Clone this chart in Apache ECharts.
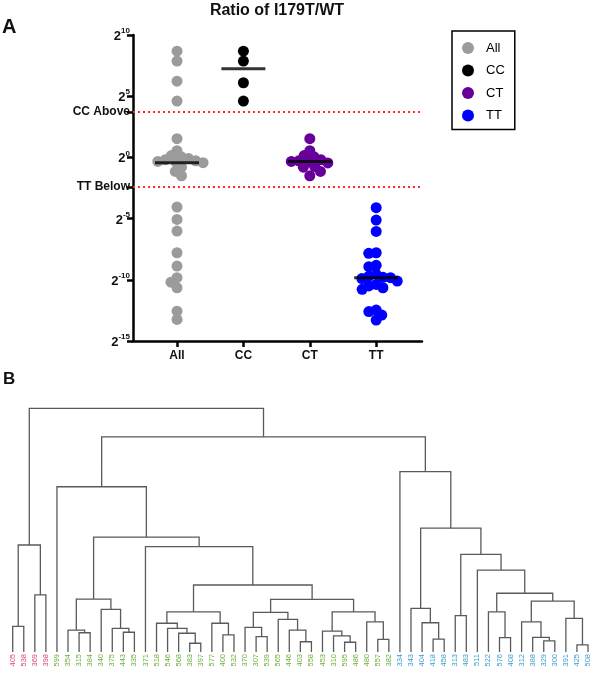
<!DOCTYPE html>
<html>
<head>
<meta charset="utf-8">
<script src="https://cdn.jsdelivr.net/npm/echarts@6/dist/echarts.min.js"></script>
<style>
html,body{margin:0;padding:0;background:#fff;}
#c{width:600px;height:675px;}
</style>
</head>
<body>
<div id="c"></div>
<script>
// ---------- Panel A data (log2 of ratio I179T/WT) ----------
const groups = ['All', 'CC', 'CT', 'TT'];
const allVals = [8.68, 7.87, 6.23, 4.6, 1.53, 0.55, 0.15, 0.05, -0.1, -0.2, -0.28, -0.33, -0.38, -0.43, -0.8, -1.15, -1.5,
  -4.06, -5.07, -6.02, -7.79, -8.88, -9.83, -10.19, -10.65, -12.56, -13.24];
const ccVals = [8.68, 7.87, 6.1, 4.6];
const ctVals = [1.53, 0.55, 0.15, 0.05, -0.2, -0.28, -0.33, -0.38, -0.45, -0.75, -0.8, -1.15, -1.5];
const ttVals = [-4.11, -5.12, -6.05, -7.79, -7.84, -8.82, -8.93, -9.55, -9.7, -9.8, -9.83, -9.9, -10.1, -10.38, -10.5, -10.65, -10.78, -12.47, -12.6, -12.88, -13.29];
const ccAbove = 3.7;
const ttBelow = -2.4;
const yTicks = [-15, -10, -5, 0, 5, 10];
const groupColors = ['#9b9b9b', '#000000', '#660099', '#0000ff'];

// ---------- Panel B data (dendrogram) ----------
const pinkLeaves = ['405', '538', '369', '398'];
const greenLeaves = ['599', '354', '315', '384', '340', '375', '443', '335', '371', '518', '546', '568', '383', '397', '577', '400', '532', '370', '307', '539', '565', '446', '403', '558', '453', '310', '595', '486', '480', '557', '382'];
const blueLeaves = ['334', '343', '404', '418', '458', '313', '483', '511', '522', '576', '408', '312', '388', '329', '300', '391', '425', '508'];
// merges: [name, childA, childB, height]
const merges = [
  ['PA', '405', '538', 10.5], ['PB', '369', '398', 23.4], ['PINK', 'PA', 'PB', 43.9],
  ['B1', '315', '384', 7.9], ['B2', '354', 'B1', 9.0], ['A1', '443', '335', 8.1], ['A2', '375', 'A1', 9.7],
  ['A3', '340', 'A2', 17.5], ['C', 'B2', 'A3', 21.7],
  ['E1', '383', '397', 3.6], ['E2', '568', 'E1', 7.7], ['E3', '546', 'E2', 9.7], ['E4', '518', 'E3', 11.8],
  ['F1', '400', '532', 7.0], ['F2', '577', 'F1', 11.8], ['E5', 'E4', 'F2', 16.5],
  ['H1', '307', '539', 6.3], ['H2', '370', 'H1', 10.1], ['I1', '403', '558', 4.2], ['I2', '446', 'I1', 9.0],
  ['I3', '565', 'I2', 13.4], ['H3', 'H2', 'I3', 16.3],
  ['J1', '595', '486', 4.0], ['J2', '310', 'J1', 6.6], ['J3', '453', 'J2', 8.6], ['K1', '557', '382', 5.2],
  ['K2', '480', 'K1', 12.4], ['J4', 'J3', 'K2', 16.5],
  ['G', 'H3', 'J4', 21.6], ['D', 'E5', 'G', 27.5], ['N371', '371', 'D', 43.2], ['N537', 'C', 'N371', 47.1],
  ['N486', '599', 'N537', 67.8],
  ['L1', '418', '458', 5.3], ['L2', '404', 'L1', 12.0], ['L3', '343', 'L2', 17.9], ['M1', '313', '483', 14.9],
  ['O1', '576', '408', 5.9], ['O2', '522', 'O1', 16.5], ['P1', '329', '300', 4.6], ['P2', '388', 'P1', 6.0],
  ['P3', '312', 'P2', 12.4], ['Q1', '425', '508', 2.9], ['Q2', '391', 'Q1', 13.8], ['P4', 'P3', 'Q2', 20.9],
  ['R', 'O2', 'P4', 24.1], ['S', '511', 'R', 33.6], ['T', 'M1', 'S', 40.1], ['U', 'L3', 'T', 50.8],
  ['V', '334', 'U', 74.0], ['N1', 'N486', 'V', 88.3], ['ROOT', 'PINK', 'N1', 100.0]
];

// ---------- helpers ----------
const leaves = pinkLeaves.concat(greenLeaves, blueLeaves);
const node = {};
leaves.forEach((l, i) => { node[l] = { x: i, h: 0 }; });
const dendroData = merges.map(m => {
  const a = node[m[1]], b = node[m[2]];
  node[m[0]] = { x: (a.x + b.x) / 2, h: m[3] };
  return [a.x, a.h, b.x, b.h, m[3]];
});
function leafColor(name) {
  if (pinkLeaves.indexOf(name) >= 0) return '#d9457f';
  if (greenLeaves.indexOf(name) >= 0) return '#6cae3a';
  return '#3a9ccc';
}

// beeswarm layout (pixel space) for the dot columns
const gridA = { left: 133, top: 35, right: 178, bottom: 334 };
const xMinA = -0.663, xMaxA = 3.69;
const pxPerY = (675 - gridA.top - gridA.bottom) / 25;
const pxPerX = (600 - gridA.left - gridA.right) / (xMaxA - xMinA);
function swarm(vals, d) {
  const order = vals.map((v, i) => i).sort((a, b) => vals[b] - vals[a]);
  const placed = [];
  const off = new Array(vals.length);
  order.forEach(i => {
    const y = vals[i] * pxPerY;
    const iv = [];
    placed.forEach(p => {
      const dy = y - p.y;
      if (Math.abs(dy) < d) { const w = Math.sqrt(d * d - dy * dy); iv.push([p.x - w, p.x + w]); }
    });
    const cands = [0];
    iv.forEach(r => { cands.push(r[0], r[1]); });
    cands.sort((a, b) => Math.abs(a) - Math.abs(b) || a - b);
    let c = 0;
    for (const k of cands) {
      if (!iv.some(r => k > r[0] + 1e-6 && k < r[1] - 1e-6)) { c = k; break; }
    }
    placed.push({ x: c, y: y });
    off[i] = c / pxPerX;
  });
  return off;
}
function median(vals) {
  const lin = vals.map(v => Math.pow(2, v)).sort((a, b) => a - b);
  const n = lin.length;
  const m = n % 2 ? lin[(n - 1) / 2] : (lin[n / 2 - 1] + lin[n / 2]) / 2;
  return Math.log2(m);
}
const colVals = [allVals, ccVals, ctVals, ttVals];
const dotSeries = colVals.map((vals, gi) => {
  const off = swarm(vals, 7.5);
  return {
    name: groups[gi], type: 'scatter', xAxisIndex: 0, yAxisIndex: 0,
    symbol: 'circle', symbolSize: 11, z: 2,
    itemStyle: { color: groupColors[gi], opacity: 1 },
    data: vals.map((v, i) => [gi + off[i], v])
  };
});
const medianSeries = {
  name: 'median', type: 'scatter', xAxisIndex: 0, yAxisIndex: 0,
  symbol: 'rect', symbolSize: [44, 3], z: 5,
  itemStyle: { color: '#000' },
  data: colVals.map((vals, gi) => [gi, median(vals)]),
  markLine: {
    silent: true, symbol: 'none', label: { show: false },
    lineStyle: { color: '#ff2a2a', type: [2, 3], width: 2 },
    data: [{ yAxis: ccAbove }, { yAxis: ttBelow }]
  }
};
const dendroSeries = {
  type: 'custom', xAxisIndex: 1, yAxisIndex: 1,
  encode: { x: [0, 2], y: [1, 3, 4] },
  data: dendroData,
  renderItem: function (params, api) {
    const p1 = api.coord([api.value(0), api.value(1)]);
    const p2 = api.coord([api.value(0), api.value(4)]);
    const p3 = api.coord([api.value(2), api.value(4)]);
    const p4 = api.coord([api.value(2), api.value(3)]);
    return { type: 'polyline', shape: { points: [p1, p2, p3, p4] }, style: { stroke: '#5a5a5a', lineWidth: 1.3, fill: null } };
  }
};

const font = 'Liberation Sans';
const chart = echarts.init(document.getElementById('c'), null, { renderer: 'canvas' });
chart.setOption({
  animation: false,
  backgroundColor: '#fff',
  textStyle: { fontFamily: font },
  title: [
    { text: 'Ratio of I179T/WT', left: 277, top: 3, padding: 0, textAlign: 'center', textStyle: { fontSize: 16, fontWeight: 'bold', color: '#111', fontFamily: font } },
    { text: 'A', left: 2, top: 17, padding: 0, textStyle: { fontSize: 20, fontWeight: 'bold', color: '#111', fontFamily: font } },
    { text: 'B', left: 3, top: 371, padding: 0, textStyle: { fontSize: 17, fontWeight: 'bold', color: '#111', fontFamily: font } }
  ],
  legend: {
    data: groups, orient: 'vertical', left: 452, top: 31,
    itemWidth: 26, itemHeight: 12, itemGap: 9.5, icon: 'circle',
    padding: [10.5, 10, 7.5, 10], borderColor: '#000', borderWidth: 1.5,
    textStyle: { fontSize: 13, color: '#000', fontFamily: font }
  },
  grid: [
    { left: gridA.left, top: gridA.top, right: gridA.right, bottom: gridA.bottom },
    { left: 12.7, top: 408.3, right: 12, bottom: 23 }
  ],
  xAxis: [
    {
      gridIndex: 0, type: 'value', min: xMinA, max: xMaxA,
      axisLine: { show: true, onZero: false, lineStyle: { color: '#000', width: 2.5 } },
      axisTick: { show: true, customValues: [0, 1, 2, 3], length: 6, lineStyle: { color: '#000', width: 2.5 } },
      axisLabel: { customValues: [0, 1, 2, 3], formatter: v => groups[Math.round(v)], fontSize: 12, fontWeight: 'bold', color: '#111', margin: 9, fontFamily: font },
      splitLine: { show: false }
    },
    {
      gridIndex: 1, type: 'value', min: 0, max: leaves.length - 1,
      axisLine: { show: false, onZero: false }, axisTick: { show: false }, splitLine: { show: false },
      axisLabel: {
        customValues: leaves.map((l, i) => i), rotate: 90, fontSize: 7.5, margin: 2, fontFamily: font,
        formatter: v => leaves[Math.round(v)],
        color: (v) => leafColor(leaves[Math.round(+v)])
      }
    }
  ],
  yAxis: [
    {
      gridIndex: 0, type: 'value', min: -15, max: 10,
      axisLine: { show: true, onZero: false, lineStyle: { color: '#000', width: 2.5 } },
      axisTick: { show: true, customValues: yTicks.concat([ccAbove, ttBelow]), length: 6, lineStyle: { color: '#000', width: 2.5 } },
      axisLabel: {
        customValues: yTicks.concat([ccAbove, ttBelow]), margin: 3, fontFamily: font,
        formatter: v => {
          if (Math.abs(v - ccAbove) < 1e-6) return '{t|CC Above}';
          if (Math.abs(v - ttBelow) < 1e-6) return '{t|TT Below}';
          return '{b|2}{s|' + v + '}';
        },
        rich: {
          t: { fontSize: 12, fontWeight: 'bold', color: '#111', fontFamily: font },
          b: { fontSize: 13, fontWeight: 'bold', color: '#111', fontFamily: font, lineHeight: 16, verticalAlign: 'bottom' },
          s: { fontSize: 8, fontWeight: 'bold', color: '#111', fontFamily: font, lineHeight: 16, verticalAlign: 'top' }
        }
      },
      splitLine: { show: false }
    },
    { gridIndex: 1, type: 'value', min: 0, max: 100, show: false, splitLine: { show: false } }
  ],
  series: dotSeries.concat([medianSeries, dendroSeries])
});
</script>
</body>
</html>
